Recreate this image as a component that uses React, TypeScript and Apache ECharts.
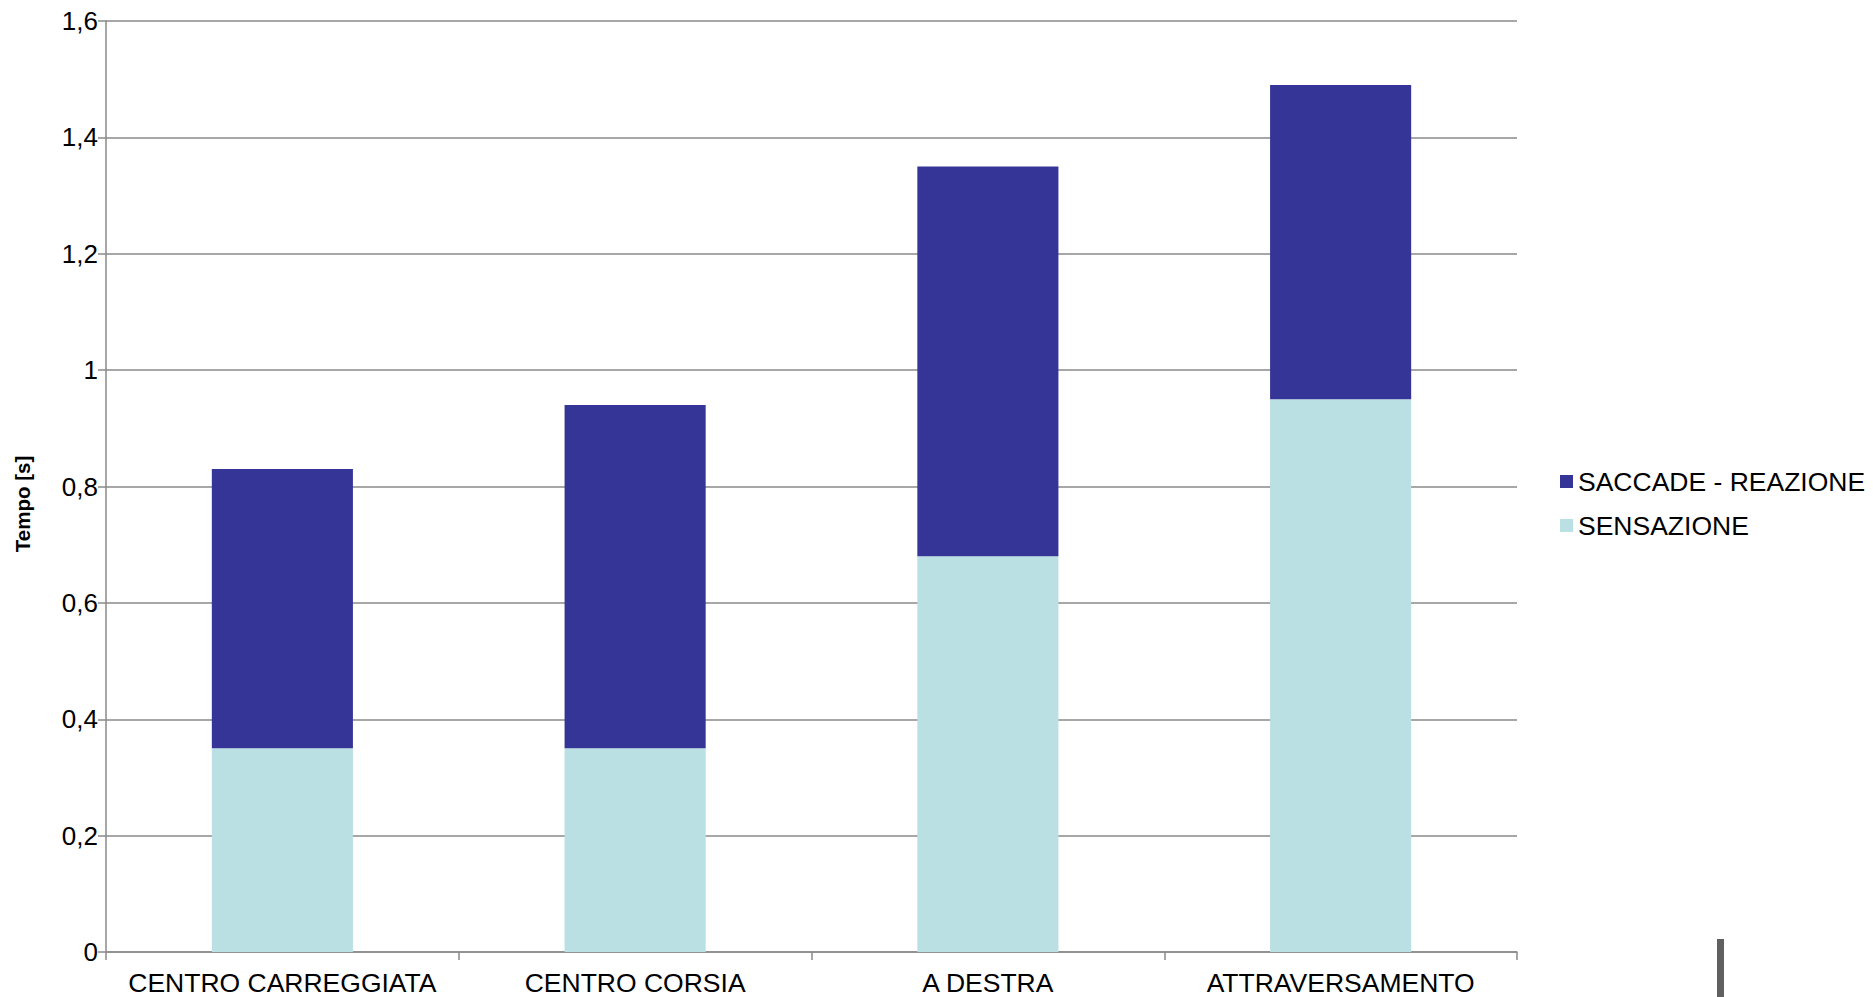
import React, { useEffect, useRef } from "react";
import * as echarts from "echarts";

const categories = ["CENTRO CARREGGIATA", "CENTRO CORSIA", "A DESTRA", "ATTRAVERSAMENTO"];
const sensazione = [0.35, 0.35, 0.68, 0.95];
const saccadeReazione = [0.48, 0.59, 0.67, 0.54];
const seriesNames = ["SACCADE - REAZIONE", "SENSAZIONE"];
const yTicks = [0, 0.2, 0.4, 0.6, 0.8, 1, 1.2, 1.4, 1.6];
const yTitle = "Tempo [s]";

const FONT = "'Liberation Sans', Arial, Helvetica, sans-serif";
const GREY = "#8a8a8a";

export default function App() {
  const ref = useRef<HTMLDivElement>(null);
  useEffect(() => {
    if (!ref.current) return;
    const chart = echarts.init(ref.current, undefined, { renderer: "svg" });
    chart.setOption({
      animation: false,
      backgroundColor: "#ffffff",
      textStyle: { fontFamily: FONT },
      grid: { left: 106, top: 21, width: 1411, height: 931, containLabel: false },
      legend: {
        orient: "vertical",
        left: 1555,
        top: 463,
        data: seriesNames,
        itemWidth: 13,
        itemHeight: 13,
        itemGap: 17,
        icon: "rect",
        textStyle: { fontSize: 26.5, color: "#000", fontFamily: FONT },
      },
      xAxis: {
        type: "category",
        data: categories,
        axisLine: { show: true, lineStyle: { color: GREY, width: 1.5 } },
        axisTick: { show: true, interval: 0, length: 8, lineStyle: { color: GREY, width: 1.5 } },
        axisLabel: { interval: 0, fontSize: 26.5, color: "#000", margin: 17, fontFamily: FONT },
      },
      yAxis: {
        type: "value",
        min: 0,
        max: 1.6,
        interval: 0.2,
        axisLine: { show: true, lineStyle: { color: GREY, width: 1.5 } },
        axisTick: { show: true, length: 8, lineStyle: { color: GREY, width: 1.5 } },
        splitLine: { show: true, lineStyle: { color: GREY, width: 1.5 } },
        axisLabel: {
          fontSize: 26,
          color: "#000",
          margin: 8,
          fontFamily: FONT,
          formatter: (v: number) => {
            const t = yTicks.find((x) => Math.abs(x - v) < 1e-6);
            const val = t === undefined ? v : t;
            return String(Number(val.toFixed(1))).replace(".", ",");
          },
        },
      },
      graphic: [
        {
          type: "text",
          x: 22,
          y: 504,
          rotation: Math.PI / 2,
          style: {
            text: yTitle,
            align: "center",
            verticalAlign: "middle",
            font: `bold 20.5px ${FONT}`,
            fill: "#000",
          },
        },
        {
          type: "rect",
          shape: { x: 1717, y: 939, width: 7, height: 60 },
          style: { fill: "#606060" },
        },
      ],
      series: [
        {
          name: seriesNames[1],
          type: "bar",
          stack: "total",
          data: sensazione,
          barWidth: "40%",
          itemStyle: { color: "#bae0e3" },
        },
        {
          name: seriesNames[0],
          type: "bar",
          stack: "total",
          data: saccadeReazione,
          barWidth: "40%",
          itemStyle: { color: "#353598" },
        },
      ],
    });
    return () => chart.dispose();
  }, []);
  return (
    <div
      ref={ref}
      style={{ position: "absolute", left: 0, top: 0, width: 1873, height: 997 }}
    />
  );
}
